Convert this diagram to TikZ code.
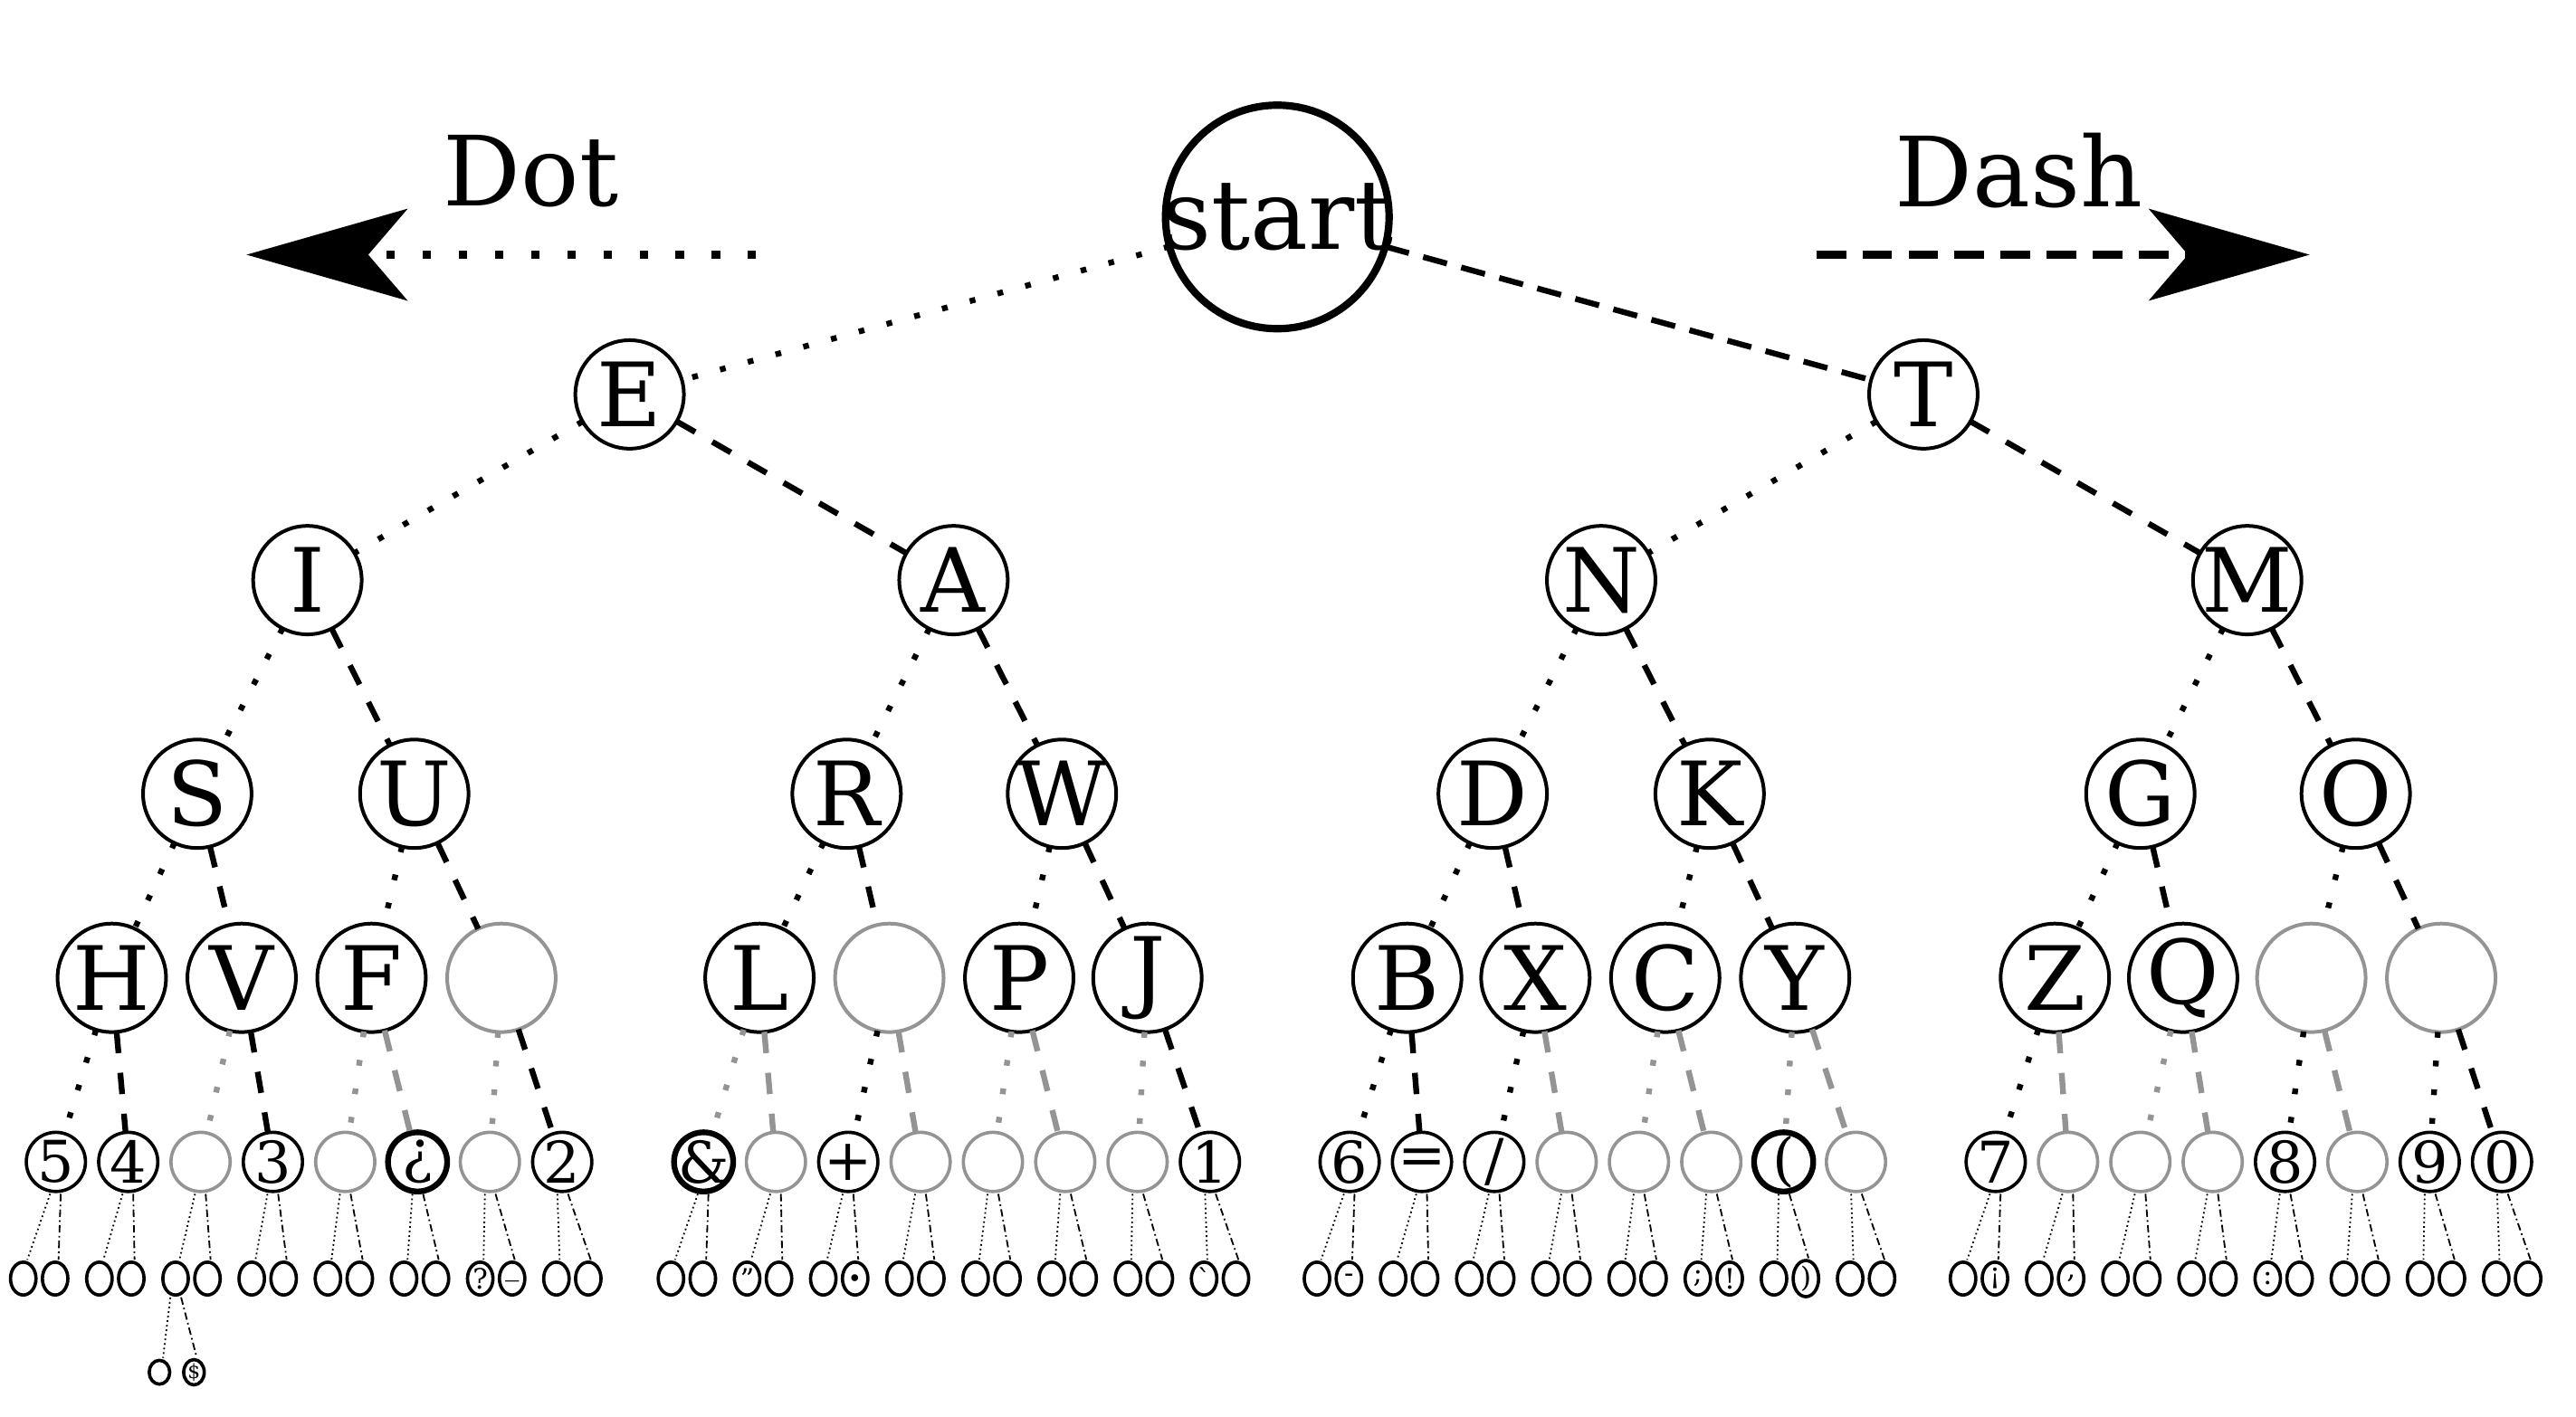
\documentclass[tikz,border=0pt]{standalone}
\usepackage{fontspec}
\setmainfont{DejaVu Serif}
\newfontfamily\rawserif{DejaVu Serif}[Ligatures=TeXOff]
\usetikzlibrary{arrows.meta,shapes.geometric}
\definecolor{lg}{gray}{0.58}
\newcommand\T[1]{\makebox[0pt]{#1}}
\begin{document}
\begin{tikzpicture}[x=1pt,y=-1pt,
  bigc/.style={circle,draw,line width=4.5pt,minimum size=136pt,inner sep=0pt,outer sep=0pt,font=\fontsize{59}{59}\selectfont},
  lvl/.style={circle,draw,line width=2.2pt,minimum size=66pt,inner sep=0pt,outer sep=0pt,font=\fontsize{54}{54}\selectfont},
  lvlg/.style={lvl,draw=lg},
  five/.style={circle,draw,line width=2pt,minimum size=36pt,inner sep=0pt,outer sep=0pt,font=\fontsize{35}{35}\selectfont},
  fiveg/.style={five,draw=lg},
  fiveb/.style={five,line width=3.5pt},
  six/.style={ellipse,draw,line width=2pt,minimum width=15.5pt,minimum height=20pt,inner sep=0pt,outer sep=0pt,font=\fontsize{17}{17}\selectfont},
  seven/.style={ellipse,draw,line width=2pt,minimum width=12.5pt,minimum height=14.5pt,inner sep=0pt,outer sep=0pt,font=\fontsize{12}{12}\selectfont},
  topdot/.style={line width=3.5pt,dash pattern=on 3.5pt off 14pt},
  topdash/.style={line width=3.5pt,dash pattern=on 15pt off 9pt},
  edot/.style={line width=3.5pt,dash pattern=on 3.5pt off 14pt},
  edash/.style={line width=3.5pt,dash pattern=on 13pt off 12pt},
  edotg/.style={edot,draw=lg},
  edashg/.style={edash,draw=lg},
  thdot/.style={line width=1pt,dash pattern=on 1pt off 1.8pt,shorten <=1.5pt,shorten >=1.5pt},
  thdash/.style={line width=1pt,dash pattern=on 4.5pt off 2pt on 1pt off 2pt,shorten <=1.5pt,shorten >=1.5pt},
  arrdot/.style={line width=5pt,dash pattern=on 5pt off 17pt},
  arrdash/.style={line width=5pt,dash pattern=on 18pt off 10pt},
  bighead/.style={-{Stealth[length=98pt,width=56pt,inset=24pt,line width=1pt]}},
  titletxt/.style={inner sep=0pt,font=\fontsize{59}{59}\selectfont}
]
\useasboundingbox (0,0) rectangle (1567,862.2);

% title arrows
\node[titletxt] (dottxt) at (323,104) {Dot};
\node[titletxt] (dashtxt) at (1228,104) {Dash};
\coordinate (dotfrom) at (460,155);
\coordinate (dotto) at (150,155);
\coordinate (dashfrom) at (1105,155);
\coordinate (dashto) at (1405,155);
\draw[arrdot,bighead] (dotfrom) -- (dotto);
\draw[arrdash,bighead] (dashfrom) -- (dashto);

% upper tree
\node[bigc] (start) at (777,132) {\T{start}};
\node[lvl] (E) at (383,240) {\T{E}};
\node[lvl] (T) at (1170,240) {\T{T}};
\node[lvl] (I) at (187,353) {\T{I}};
\node[lvl] (A) at (580,353) {\T{A}};
\node[lvl] (N) at (974,353) {\T{N}};
\node[lvl] (M) at (1367,353) {\T{M}};
\node[lvl] (S) at (120,483) {\T{S}};
\node[lvl] (U) at (252,483) {\T{U}};
\node[lvl] (R) at (515,483) {\T{R}};
\node[lvl] (W) at (646,483) {\T{W}};
\node[lvl] (D) at (908,483) {\T{D}};
\node[lvl] (K) at (1040,483) {\T{K}};
\node[lvl] (G) at (1302,483) {\T{G}};
\node[lvl] (O) at (1433,483) {\T{O}};
\node[lvl] (H) at (68,595) {\T{H}};
\node[lvl] (V) at (147,595) {\T{V}};
\node[lvl] (F) at (226,595) {\T{F}};
\node[lvlg] (e4a) at (305,595) {};
\node[lvl] (L) at (462,595) {\T{L}};
\node[lvlg] (e4b) at (541,595) {};
\node[lvl] (P) at (620,595) {\T{P}};
\node[lvl] (J) at (698,595) {\T{J}};
\node[lvl] (B) at (856,595) {\T{B}};
\node[lvl] (X) at (934,595) {\T{X}};
\node[lvl] (C) at (1013,595) {\T{C}};
\node[lvl] (Y) at (1092,595) {\T{Y}};
\node[lvl] (Z) at (1250,595) {\T{Z}};
\node[lvl] (Q) at (1328,595) {\T{Q}};
\node[lvlg] (e4c) at (1406,595) {};
\node[lvlg] (e4d) at (1485,595) {};

\draw[topdot] (start) -- (E);
\draw[topdash] (start) -- (T);
\draw[edot] (E) -- (I);  \draw[edash] (E) -- (A);
\draw[edot] (T) -- (N);  \draw[edash] (T) -- (M);
\draw[edot] (I) -- (S);  \draw[edash] (I) -- (U);
\draw[edot] (A) -- (R);  \draw[edash] (A) -- (W);
\draw[edot] (N) -- (D);  \draw[edash] (N) -- (K);
\draw[edot] (M) -- (G);  \draw[edash] (M) -- (O);
\draw[edot] (S) -- (H);  \draw[edash] (S) -- (V);
\draw[edot] (U) -- (F);  \draw[edash] (U) -- (e4a);
\draw[edot] (R) -- (L);  \draw[edash] (R) -- (e4b);
\draw[edot] (W) -- (P);  \draw[edash] (W) -- (J);
\draw[edot] (D) -- (B);  \draw[edash] (D) -- (X);
\draw[edot] (K) -- (C);  \draw[edash] (K) -- (Y);
\draw[edot] (G) -- (Z);  \draw[edash] (G) -- (Q);
\draw[edot] (O) -- (e4c);  \draw[edash] (O) -- (e4d);

% levels 5 and 6
\foreach \k/\lab/\st/\pp/\es/\la/\lb in {
 1/5/five/H/edot/{}/{},
 2/4/five/H/edash/{}/{},
 3/{}/fiveg/V/edotg/{}/{},
 4/3/five/V/edash/{}/{},
 5/{}/fiveg/F/edotg/{}/{},
 6/¿/fiveb/F/edashg/{}/{},
 7/{}/fiveg/e4a/edotg/{?}/{\_},
 8/2/five/e4a/edash/{}/{},
 9/{\&}/fiveb/L/edotg/{}/{},
 10/{}/fiveg/L/edashg/{”}/{},
 11/{+}/five/e4b/edot/{}/{\fontsize{32}{32}\selectfont.},
 12/{}/fiveg/e4b/edashg/{}/{},
 13/{}/fiveg/P/edotg/{}/{},
 14/{}/fiveg/P/edashg/{}/{},
 15/{}/fiveg/J/edotg/{}/{},
 16/1/five/J/edash/{\rawserif`}/{},
 17/6/five/B/edot/{}/{-},
 18/{=}/five/B/edash/{}/{},
 19/{/}/five/X/edot/{}/{},
 20/{}/fiveg/X/edashg/{}/{},
 21/{}/fiveg/C/edotg/{}/{},
 22/{}/fiveg/C/edashg/{;}/{!},
 23/{(}/fiveb/Y/edotg/{}/{)},
 24/{}/fiveg/Y/edashg/{}/{},
 25/7/five/Z/edot/{}/{¡},
 26/{}/fiveg/Z/edashg/{}/{,},
 27/{}/fiveg/Q/edotg/{}/{},
 28/{}/fiveg/Q/edashg/{}/{},
 29/8/five/e4c/edot/{:}/{},
 30/{}/fiveg/e4c/edashg/{}/{},
 31/9/five/e4d/edot/{}/{},
 32/0/five/e4d/edash/{}/{}%
}{
 \pgfmathtruncatemacro\g{int((\k-1)/8)}
 \pgfmathtruncatemacro\j{mod(\k-1,8)}
 \pgfmathsetmacro\gs{{34,428,821,1214}[\g]}
 \pgfmathsetmacro\xf{\gs+44*\j}
 \pgfmathsetmacro\xp{\gs+152+1.053*(44*\j-154)}
 \node[\st] (f\k) at (\xf,707) {\T{\lab}};
 \draw[\es] (\pp) -- (f\k);
 \node[six] (sa\k) at (\xp-9.7,778) {\T{\la}};
 \node[six] (sb\k) at (\xp+9.7,778) {\T{\lb}};
 \draw[thdot] ([xshift=-3pt]f\k.south) -- ([xshift=2pt]sa\k.north);
 \draw[thdash] ([xshift=3pt]f\k.south) -- ([xshift=2pt]sb\k.north);
}

% level 7
\node[seven] (ga) at (97,835) {};
\node[seven] (gb) at (118,835) {\T{\$}};
\draw[thdot] ([xshift=-3pt]sa3.south) -- ([xshift=2pt]ga.north);
\draw[thdash] ([xshift=3pt]sa3.south) -- ([xshift=2pt]gb.north);
\end{tikzpicture}
\end{document}
